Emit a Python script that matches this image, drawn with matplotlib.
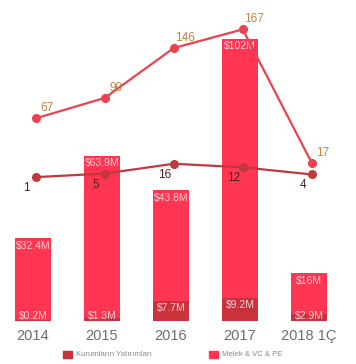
import matplotlib
matplotlib.use("Agg")
import matplotlib.pyplot as plt
from matplotlib.patches import Rectangle

plt.rcParams["font.family"] = ["Liberation Sans", "DejaVu Sans"]

years = ["2014", "2015", "2016", "2017", "2018 1Ç"]
kurumsal = [0.2, 1.3, 7.7, 9.2, 2.9]          # $M, bottom segment
melek_vc_pe = [32.4, 63.9, 43.8, 102, 16]      # $M, top segment
kurumsal_lbl = ["$0.2M", "$1.3M", "$7.7M", "$9.2M", "$2.9M"]
melek_lbl = ["$32.4M", "$63.9M", "$43.8M", "$102M", "$16M"]
count_melek = [67, 90, 146, 167, 17]
count_kurumsal = [1, 5, 16, 12, 4]
legend_labels = ["Kurumların Yatırımları", "Melek & VC & PE"]

DARK = "#c9313b"
BRIGHT = "#ff3552"
LINE1 = "#e8434f"
LINE2 = "#bf3a3c"
TXT_BAR = "#f7cdd3"

W, H = 356, 364
fig = plt.figure(figsize=(W / 100, H / 100), dpi=100)
ax_top_px, ax_bot_px = 10, 321
ax = fig.add_axes([0, (H - ax_bot_px) / H, 1, (ax_bot_px - ax_top_px) / H])

x = list(range(len(years)))
ax.set_xlim(-33 / 69, (356 - 33) / 69)
px_per_m = 2.536
ax.set_ylim(0, (ax_bot_px - ax_top_px) / px_per_m)

ax.bar(x, kurumsal, width=0.52, color=DARK, zorder=1)
ax.bar(x, melek_vc_pe, width=0.52, bottom=kurumsal, color=BRIGHT, zorder=1)

for i in x:
    total = kurumsal[i] + melek_vc_pe[i]
    ax.text(i, total - 7.5 / px_per_m, melek_lbl[i], ha="center", va="center",
            fontsize=7.5, color=TXT_BAR, zorder=2)
    if kurumsal[i] < 5:
        yb = 5 / px_per_m
    else:
        yb = kurumsal[i] - 7 / px_per_m
    ax.text(i, yb, kurumsal_lbl[i], ha="center", va="center",
            fontsize=7.5, color=TXT_BAR, zorder=2)

ax.set_yticks([])
ax.set_xticks(x)
ax.set_xticklabels(years, fontsize=10.5, color="#6e6e6e")
ax.tick_params(axis="x", length=0, pad=6)
for s in ax.spines.values():
    s.set_visible(False)

# counts on a twin axis
ax2 = ax.twinx()
zero_px = 178
px_per_n = 0.89
ax2.set_ylim(-(ax_bot_px - zero_px) / px_per_n, (zero_px - ax_top_px) / px_per_n)
ax2.set_yticks([])
for s in ax2.spines.values():
    s.set_visible(False)

xm = [i + 0.04 for i in x]
ax2.plot(xm, count_melek, color=LINE1, lw=1.6, marker="o", ms=5.5, zorder=3)
ax2.plot(xm, count_kurumsal, color=LINE2, lw=1.6, marker="o", ms=5.5, zorder=3)
for i in x:
    ax2.annotate(str(count_melek[i]), (xm[i], count_melek[i]), xytext=(11, 10),
                 textcoords="offset pixels", ha="center", va="center",
                 fontsize=8.5, color="#c98040")
    ax2.annotate(str(count_kurumsal[i]), (xm[i], count_kurumsal[i]), xytext=(-9, -11),
                 textcoords="offset pixels", ha="center", va="center",
                 fontsize=8.5, color="#4a1e1e")

# legend drawn by hand to match spacing
for (sq_x, txt_x), col, lbl in zip([(63, 76), (209, 222)], [DARK, BRIGHT], legend_labels):
    fig.patches.append(Rectangle((sq_x / W, 1 - 358 / H), 8.5 / W, 7.5 / H,
                                 transform=fig.transFigure, color=col))
    fig.text(txt_x / W, 1 - 354.5 / H, lbl, ha="left", va="center",
             fontsize=5.6, color="#8a8a8a")

fig.savefig("out.png", dpi=100)
